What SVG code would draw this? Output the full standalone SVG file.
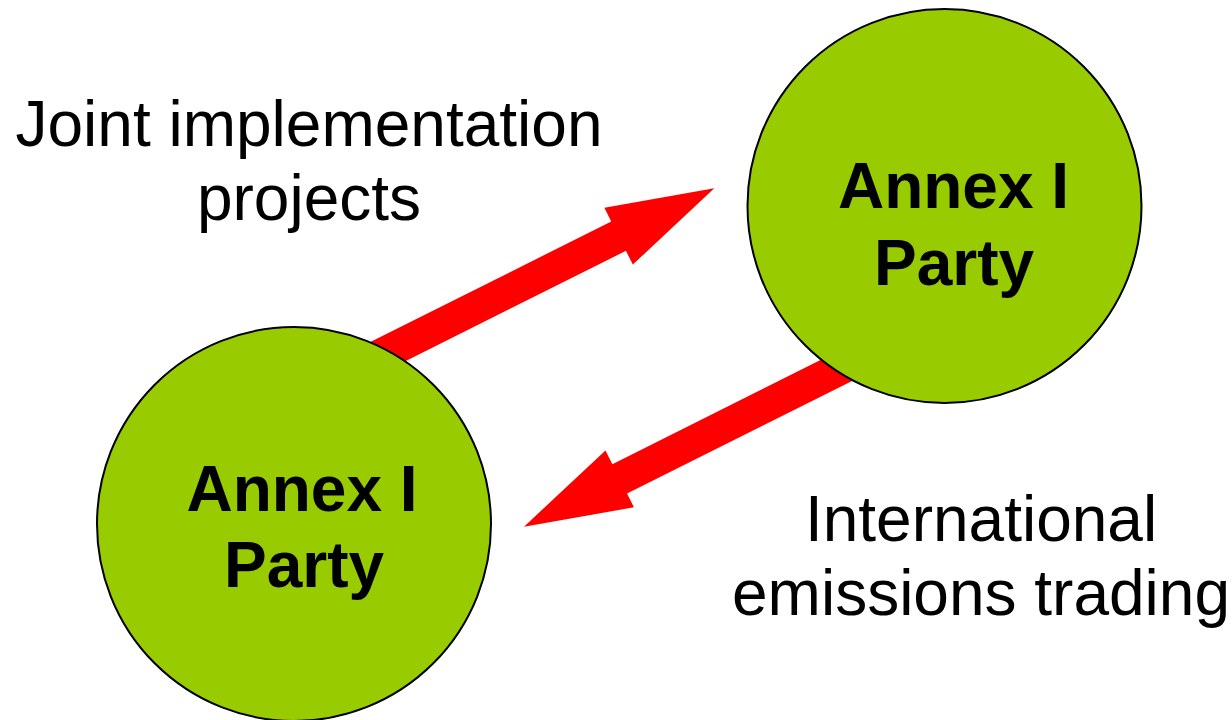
<svg xmlns="http://www.w3.org/2000/svg" width="1232" height="720" viewBox="0 0 1232 720">
  <style>
    .label { font-family: "Liberation Sans", Arial, sans-serif; font-size: 64px; fill: #000; text-anchor: middle; }
    .node-label { font-family: "Liberation Sans", Arial, sans-serif; font-size: 64px; font-weight: bold; fill: #000; text-anchor: middle; }
    .party { fill: #99CC00; stroke: #000; stroke-width: 2; }
    .flow { fill: #FF0000; stroke: none; }
  </style>
  <defs>
    <!-- block arrow pointing along +x, tip at origin -->
    <polygon id="blockArrow" points="0,0 -107,-31.8 -107,-16.4 -400,-16.4 -400,16.4 -107,16.4 -107,31.8"/>
  </defs>

  <rect width="1232" height="720" fill="#fff"/>

  <g id="connectors">
    <use href="#blockArrow" class="flow" transform="translate(714.3,188.3) rotate(-26.57)"/>
    <use href="#blockArrow" class="flow" transform="translate(524,526.7) rotate(153.43)"/>
  </g>

  <g id="party-left">
    <circle class="party" cx="294" cy="524" r="197"/>
    <text class="node-label" x="302" y="511">Annex I</text>
    <text class="node-label" x="304" y="587">Party</text>
  </g>

  <g id="party-right">
    <circle class="party" cx="944.5" cy="206" r="197"/>
    <text class="node-label" x="953.5" y="208">Annex I</text>
    <text class="node-label" x="954" y="285">Party</text>
  </g>

  <g id="label-joint">
    <text class="label" x="309" y="146">Joint implementation</text>
    <text class="label" x="309" y="220">projects</text>
  </g>

  <g id="label-trading">
    <text class="label" x="981" y="541">International</text>
    <text class="label" x="981" y="615">emissions trading</text>
  </g>
</svg>
